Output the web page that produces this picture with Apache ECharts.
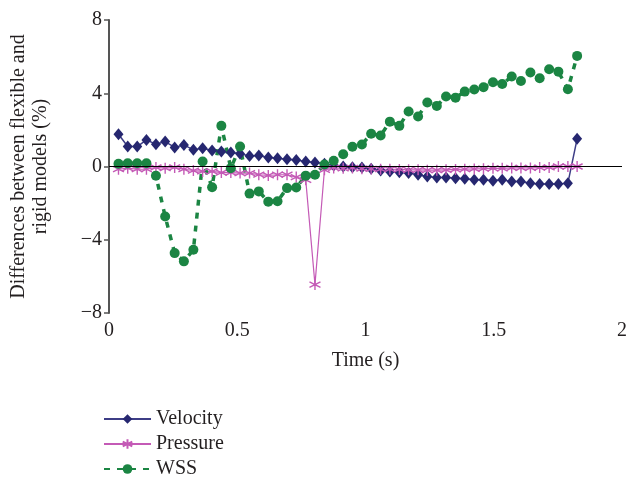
<!DOCTYPE html>
<html>
<head>
<meta charset="utf-8">
<script src="https://cdn.jsdelivr.net/npm/echarts@6/dist/echarts.min.js"></script>
<style>
html,body{margin:0;padding:0;background:#fff;}
#c{width:630px;height:479px;}
</style>
</head>
<body>
<div id="c"></div>
<script>
var times = [0.037,0.073,0.110,0.146,0.183,0.219,0.256,0.292,0.329,0.365,
             0.402,0.438,0.475,0.511,0.548,0.584,0.621,0.657,0.694,0.730,
             0.767,0.803,0.840,0.876,0.913,0.949,0.986,1.022,1.059,1.095,
             1.132,1.168,1.205,1.241,1.278,1.314,1.351,1.387,1.424,1.460,
             1.497,1.533,1.570,1.606,1.643,1.679,1.716,1.752,1.789,1.825];
var velocity = [1.76,1.09,1.09,1.45,1.22,1.36,1.04,1.18,0.91,1.00,
                0.87,0.82,0.76,0.70,0.58,0.60,0.49,0.45,0.40,0.36,
                0.27,0.22,0.15,0.05,0.00,-0.04,-0.05,-0.12,-0.22,-0.27,
                -0.31,-0.36,-0.45,-0.55,-0.60,-0.60,-0.64,-0.67,-0.73,-0.73,
                -0.78,-0.73,-0.82,-0.82,-0.91,-0.95,-0.95,-0.95,-0.91,1.51];
var pressure = [-0.15,-0.09,-0.15,-0.15,-0.05,-0.09,-0.05,-0.15,-0.22,-0.27,
                -0.27,-0.33,-0.33,-0.36,-0.36,-0.45,-0.49,-0.45,-0.45,-0.58,
                -0.73,-6.45,-0.18,-0.08,-0.10,-0.08,-0.12,-0.13,-0.15,-0.15,
                -0.16,-0.18,-0.18,-0.20,-0.20,-0.18,-0.16,-0.15,-0.13,-0.12,
                -0.10,-0.10,-0.08,-0.08,-0.08,-0.06,-0.05,0.00,0.00,0.00];
var wss = [0.15,0.18,0.18,0.18,-0.51,-2.73,-4.73,-5.18,-4.55,0.27,
           -1.13,2.22,-0.09,1.09,-1.48,-1.36,-1.92,-1.90,-1.18,-1.15,
           -0.50,-0.45,0.11,0.31,0.67,1.08,1.20,1.79,1.69,2.45,
           2.22,3.00,2.73,3.49,3.31,3.82,3.76,4.09,4.20,4.33,
           4.60,4.51,4.91,4.67,5.13,4.82,5.31,5.18,4.22,6.04];
var xTicks = [0,0.5,1,1.5,2];
var yTicks = [-8,-4,0,4,8];

function pairs(ys){ return times.map(function(t,i){ return [t, ys[i]]; }); }

var FONT = 'Liberation Serif';
var asterisk = 'path://M5,0 L5,10 M0.7,2.5 L9.3,7.5 M9.3,2.5 L0.7,7.5';

var chart = echarts.init(document.getElementById('c'), null, {renderer:'canvas'});
chart.setOption({
  animation:false,
  backgroundColor:'#ffffff',
  textStyle:{fontFamily:FONT},
  grid:{left:109, right:3, top:20, bottom:166, containLabel:false},
  xAxis:{
    type:'value', min:xTicks[0], max:xTicks[xTicks.length-1], interval:0.5,
    axisLine:{show:false}, axisTick:{show:false}, splitLine:{show:false},
    axisLabel:{color:'#231f20', fontSize:20, fontFamily:FONT, margin:8,
      formatter:function(v){ return xTicks.indexOf(v)>=0 ? String(v) : ''; }},
    name:'Time (s)', nameLocation:'middle', nameGap:38,
    nameTextStyle:{color:'#231f20', fontSize:20, fontFamily:FONT}
  },
  yAxis:{
    type:'value', min:yTicks[0], max:yTicks[yTicks.length-1], interval:4,
    axisLine:{show:true, onZero:false, lineStyle:{color:'#555', width:2}},
    axisTick:{show:true, inside:false, length:5, lineStyle:{color:'#555', width:1.5}},
    splitLine:{show:false},
    axisLabel:{color:'#231f20', fontSize:20, fontFamily:FONT, margin:7,
      formatter:function(v){ return v<0 ? '\u2212'+Math.abs(v) : String(v); }},
    name:'Differences between flexible and\nrigid models (%)',
    nameLocation:'middle', nameGap:57, nameRotate:90,
    nameTextStyle:{color:'#231f20', fontSize:20, fontFamily:FONT, lineHeight:22, align:'center'}
  },
  legend:{
    orient:'vertical', left:103, top:409, itemGap:5, itemWidth:47, itemHeight:12,
    padding:0, height:80,
    textStyle:{color:'#231f20', fontSize:20, fontFamily:FONT},
    data:['Velocity','Pressure','WSS']
  },
  series:[
    {
      name:'Velocity', type:'line', data:pairs(velocity),
      symbol:'diamond', symbolSize:[10,12],
      lineStyle:{color:'#3d3d86', width:1.5},
      itemStyle:{color:'#262770', borderWidth:0},
      markLine:{silent:true, symbol:'none', label:{show:false},
        lineStyle:{color:'#000', width:1.2, type:'solid'},
        data:[{yAxis:0}], animation:false}
    },
    {
      name:'Pressure', type:'line', data:pairs(pressure),
      symbol:asterisk, symbolSize:11,
      lineStyle:{color:'#c45ab6', width:1.2},
      itemStyle:{color:'none', borderColor:'#c45ab6', borderWidth:1.4}
    },
    {
      name:'WSS', type:'line', data:pairs(wss),
      symbol:'circle', symbolSize:10,
      lineStyle:{color:'#1b8543', width:3.5, type:[6,7]},
      itemStyle:{color:'#1b8543', borderWidth:0}
    }
  ]
});
</script>
</body>
</html>
